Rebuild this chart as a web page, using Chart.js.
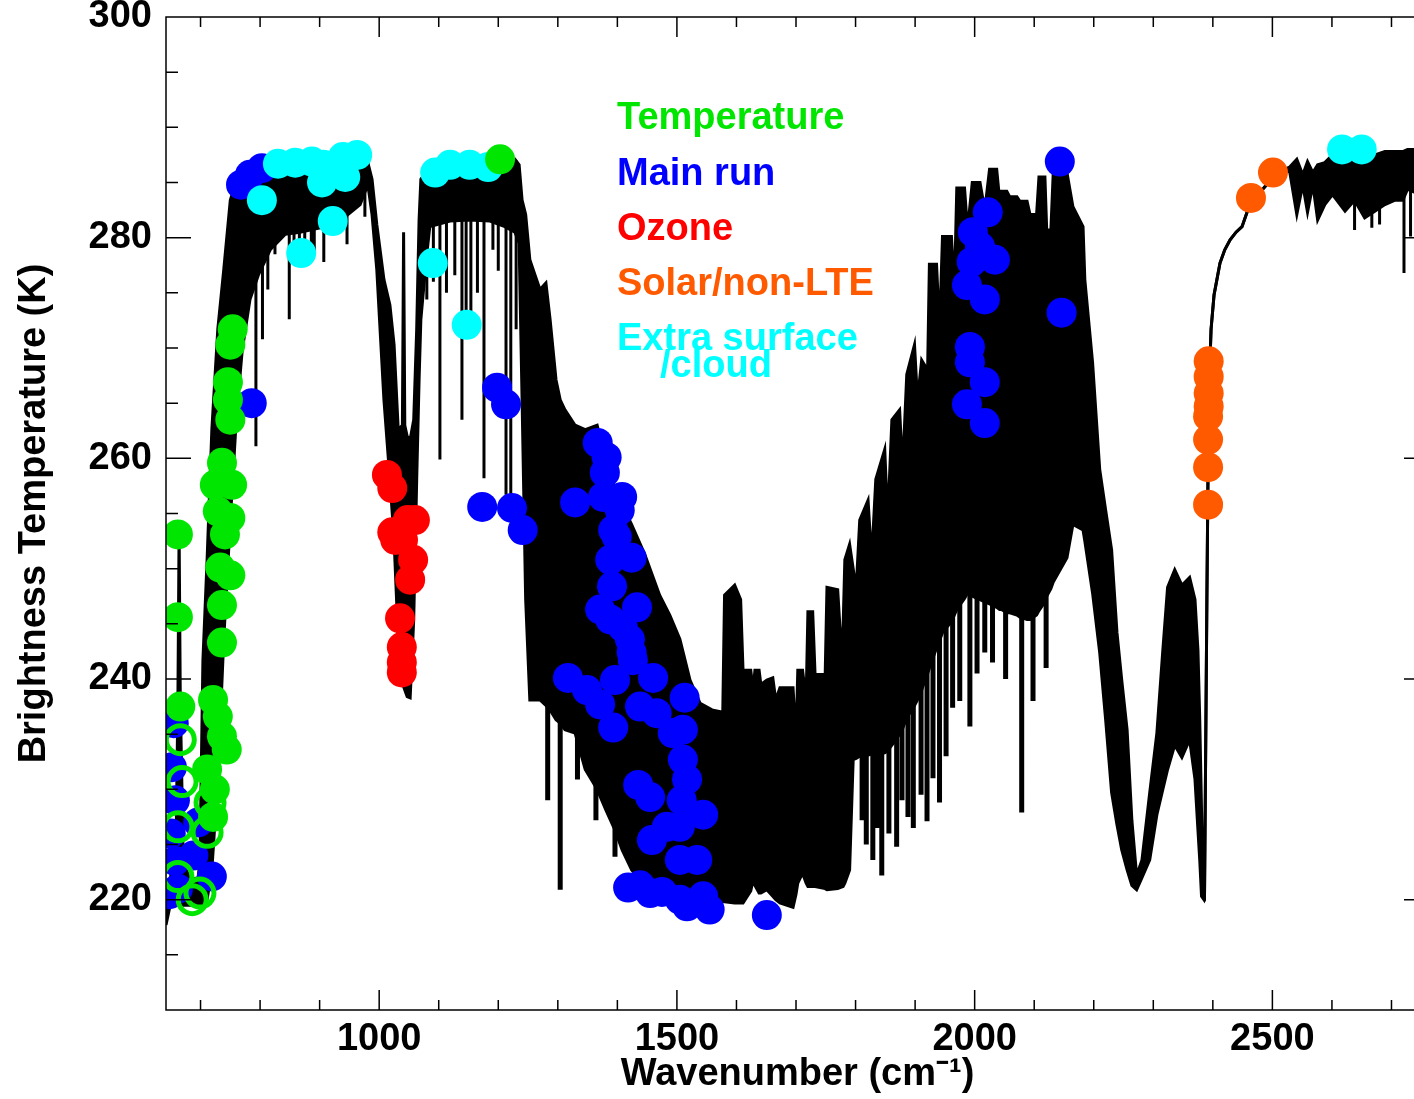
<!DOCTYPE html>
<html>
<head>
<meta charset="utf-8">
<title>Brightness temperature spectrum</title>
<script src="https://cdn.jsdelivr.net/npm/chart.js@4.4.1/dist/chart.umd.min.js"></script>
<style>
  html, body { margin: 0; padding: 0; background: #fff; overflow: hidden; }
  #wrap { width: 1430px; height: 1099px; }
</style>
</head>
<body>
<div id="wrap"><canvas id="spectrumChart" width="1430" height="1099"></canvas></div>
<script>
const FONT = "'Liberation Sans', Arial, Helvetica, sans-serif";

// spectrum envelope: [wavenumber (cm-1), upper K, lower K]
const spectrumBand = [
  [642, 220.4, 217.7], [649, 221.8, 219.5], [659, 225.4, 220.0], [662, 238.1, 220.0], [664, 253.5, 220.0],
  [666, 238.1, 220.0], [671, 223.6, 219.5], [682, 221.8, 219.5], [696, 222.0, 219.5], [699, 223.6, 219.5],
  [704, 241.7, 219.7], [711, 250.8, 220.0], [719, 262.6, 222.7], [729, 271.7, 230.9], [739, 277.1, 243.6],
  [750, 283.4, 254.4], [760, 285.1, 263.5], [770, 285.6, 269.8], [783, 286.0, 274.4], [797, 286.2, 276.6],
  [817, 286.3, 278.9], [842, 286.3, 280.3], [867, 286.4, 280.5], [901, 286.5, 280.9], [934, 286.7, 281.5],
  [968, 287.1, 283.0], [981, 286.8, 284.8], [988, 285.3, 282.1], [996, 281.2, 277.1], [1008, 276.2, 265.3],
  [1018, 273.9, 258.1], [1025, 270.3, 252.6], [1032, 262.6, 243.6], [1039, 263.0, 240.0], [1041, 280.5, 239.3],
  [1043, 263.0, 239.0], [1047, 262.0, 238.4], [1052, 261.7, 238.3], [1058, 263.5, 245.4], [1063, 271.7, 258.1],
  [1067, 281.6, 267.1], [1070, 285.3, 272.6], [1079, 286.0, 278.0], [1085, 286.1, 281.0], [1119, 286.2, 281.5],
  [1152, 286.3, 281.6], [1186, 286.5, 281.5], [1211, 286.8, 281.0], [1228, 287.1, 280.5], [1235, 286.6, 279.5],
  [1240, 283.4, 265.3], [1246, 282.1, 247.2], [1253, 278.0, 238.1], [1270, 275.3, 238.1], [1280, 275.9, 237.6],
  [1287, 272.6, 237.2], [1297, 267.1, 236.3], [1304, 265.3, 236.0], [1312, 264.4, 235.4], [1329, 263.0, 235.1],
  [1346, 262.6, 231.8], [1366, 263.0, 230.0], [1381, 259.9, 228.1], [1396, 257.2, 226.3], [1408, 255.8, 224.5],
  [1424, 254.0, 222.7], [1446, 251.3, 221.3], [1471, 247.6, 220.9], [1488, 245.8, 220.6], [1505, 243.6, 220.4],
  [1522, 239.9, 220.2], [1539, 237.8, 220.0], [1559, 237.2, 220.0], [1577, 237.0, 219.8], [1580, 247.6, 219.8],
  [1597, 248.5, 219.7], [1607, 247.2, 219.7], [1611, 240.8, 219.7], [1624, 240.8, 220.8], [1628, 239.0, 221.8],
  [1631, 240.8, 221.3], [1638, 240.8, 220.6], [1641, 239.5, 220.6], [1651, 239.9, 220.9], [1661, 240.1, 220.3],
  [1666, 238.1, 220.0], [1673, 239.2, 219.7], [1695, 239.2, 219.3], [1700, 234.5, 220.5], [1703, 240.8, 221.5],
  [1711, 240.8, 222.4], [1717, 238.1, 221.5], [1720, 246.1, 221.2], [1728, 246.1, 221.2], [1732, 240.4, 221.2],
  [1749, 240.4, 221.0], [1752, 248.3, 220.9], [1770, 248.1, 221.0], [1774, 244.5, 221.1], [1779, 244.5, 221.2],
  [1782, 250.8, 221.5], [1790, 252.2, 222.7], [1796, 250.0, 232.7], [1801, 248.1, 232.8], [1807, 254.4, 233.0],
  [1821, 256.2, 233.1], [1827, 250.8, 233.2], [1834, 258.1, 233.2], [1849, 260.8, 233.3], [1854, 254.4, 233.5],
  [1861, 263.5, 234.0], [1874, 264.4, 235.0], [1879, 259.0, 235.5], [1886, 267.6, 236.5], [1899, 270.3, 237.6],
  [1904, 265.3, 238.1], [1911, 268.9, 239.0], [1921, 268.0, 240.5], [1924, 277.6, 241.0], [1936, 277.6, 242.8],
  [1941, 271.7, 243.5], [1946, 280.1, 244.2], [1961, 280.1, 245.2], [1966, 275.3, 245.8], [1970, 284.5, 246.3],
  [1983, 284.5, 247.3], [1988, 280.7, 247.8], [1996, 285.0, 247.5], [2009, 285.0, 247.2], [2017, 282.5, 247.0],
  [2025, 286.2, 246.8], [2037, 286.2, 246.5], [2042, 283.4, 246.3], [2045, 284.2, 246.3], [2054, 284.2, 246.0],
  [2059, 283.7, 246.0], [2071, 283.7, 245.8], [2076, 283.3, 245.6], [2088, 283.3, 245.4], [2093, 282.1, 245.4],
  [2104, 282.1, 245.8], [2108, 285.5, 246.2], [2118, 285.5, 247.0], [2121, 280.7, 247.5], [2128, 280.7, 248.2],
  [2132, 285.9, 248.8], [2155, 285.9, 251.0], [2165, 282.8, 254.0], [2182, 281.0, 253.5], [2185, 276.2, 252.5],
  [2198, 268.7, 247.8], [2210, 259.0, 242.4], [2220, 255.3, 236.3], [2230, 251.7, 229.7], [2239, 244.2, 226.8],
  [2247, 239.9, 224.5], [2256, 235.4, 222.7], [2264, 227.2, 221.3], [2272, 222.2, 220.9], [2281, 223.6, 222.0],
  [2294, 229.7, 223.6], [2306, 235.1, 227.7], [2316, 242.6, 230.0], [2324, 248.3, 231.8], [2336, 249.9, 234.0],
  [2348, 248.5, 232.9], [2361, 249.2, 234.5], [2370, 247.2, 230.9], [2375, 242.6, 226.3], [2378, 236.3, 223.6],
  [2381, 228.1, 220.3], [2385, 220.4, 220.0], [2386, 220.3, 220.3], [2390, 247.2, 247.2], [2393, 265.3, 265.3],
  [2397, 271.7, 271.7], [2402, 274.8, 274.8], [2412, 277.7, 277.7], [2420, 278.9, 278.9], [2429, 279.8, 279.8],
  [2439, 280.5, 280.5], [2449, 281.0, 281.0], [2462, 283.0, 283.0], [2476, 283.9, 283.9], [2487, 284.6, 284.6],
  [2499, 285.3, 285.3], [2512, 286.0, 286.0], [2529, 286.4, 286.0], [2541, 287.1, 282.1], [2551, 285.7, 284.8],
  [2559, 286.9, 282.3], [2568, 285.9, 284.8], [2576, 286.6, 281.6], [2588, 286.8, 283.0], [2601, 287.5, 283.9],
  [2622, 287.8, 282.4], [2638, 287.8, 283.4], [2655, 287.7, 281.8], [2672, 287.5, 282.4], [2689, 287.8, 283.0],
  [2706, 287.8, 283.4], [2719, 287.8, 283.4], [2727, 288.0, 284.4], [2748, 288.0, 283.9], [2763, 287.8, 283.9]
];

// thin spectral lines in the window regions: [wavenumber, top K, bottom K]
const lineSegments = [
  [793, 286.0, 261.1], [804, 286.2, 270.8], [813, 286.2, 275.3], [825, 286.2, 278.5], [849, 286.3, 272.6],
  [857, 286.3, 278.9], [866, 286.4, 277.4], [875, 286.4, 279.4], [886, 286.4, 278.9], [891, 286.4, 278.5],
  [907, 286.5, 277.8], [946, 286.7, 279.4], [976, 287.0, 281.9],
  [1080, 286.1, 274.4], [1091, 286.1, 276.0], [1102, 286.1, 259.9], [1113, 286.2, 275.0], [1127, 286.2, 276.6],
  [1139, 286.2, 263.5], [1146, 286.3, 272.0], [1154, 286.3, 271.7], [1165, 286.3, 275.0], [1176, 286.4, 258.2],
  [1191, 286.5, 278.9], [1200, 286.5, 277.0], [1213, 286.8, 256.7], [1221, 286.9, 256.5], [1230, 287.0, 271.7],
  [2638, 287.8, 280.7], [2667, 287.5, 280.9], [2680, 287.6, 281.2], [2721, 287.8, 276.8], [2732, 288.0, 280.1]
];

// wider water-vapour lines hanging below the band: [wavenumber, top K, bottom K]
const combLines = [
  [1283, 240.0, 229.0], [1304, 240.0, 220.9], [1333, 237.0, 230.9], [1364, 232.0, 227.2], [1396, 228.0, 223.9],
  [1811, 235.0, 227.2], [1818, 234.0, 225.0], [1829, 235.0, 223.6], [1836, 234.0, 226.5], [1844, 235.0, 222.2],
  [1856, 235.0, 226.0], [1869, 236.0, 224.8], [1878, 236.0, 229.0], [1888, 238.0, 227.5], [1897, 238.0, 226.5],
  [1910, 240.0, 229.5], [1920, 242.0, 227.1], [1930, 243.0, 231.0], [1941, 245.0, 228.8], [1952, 245.0, 233.0],
  [1963, 247.0, 237.4], [1975, 248.0, 238.0], [1992, 249.0, 235.7], [2004, 248.0, 240.5], [2017, 249.0, 242.4],
  [2030, 248.0, 241.5], [2052, 247.0, 240.0], [2079, 248.0, 227.9], [2098, 246.0, 238.0], [2120, 248.0, 241.0]
];

// selected channels: [wavenumber, K]
const temperatureChannels = [
  [662, 253.1], [662, 245.6], [666, 237.5], [754, 271.7], [750, 270.3], [746, 266.9], [746, 265.3], [750, 263.5],
  [736, 259.6], [724, 257.6], [753, 257.6], [729, 255.2], [750, 254.6], [741, 253.1], [733, 250.1], [750, 249.4],
  [736, 246.7], [736, 243.3], [721, 238.1], [729, 236.6], [736, 234.8], [744, 233.6], [711, 231.8], [724, 230.0],
  [721, 227.5], [1203, 287.1]
];
const temperatureRings = [
  [666, 234.5], [669, 230.7], [716, 228.8], [711, 226.1], [662, 226.6], [662, 222.1], [686, 220.0], [699, 220.6]
];
const mainRunChannels = [
  [655, 236.0], [652, 232.0], [657, 229.0], [650, 226.0], [657, 223.5], [662, 221.0], [648, 220.5], [719, 222.1],
  [696, 227.0], [688, 224.0],
  [768, 284.8], [783, 285.7], [803, 286.3], [786, 265.0],
  [1173, 255.6], [1198, 266.4], [1213, 264.9], [1223, 255.5], [1241, 253.5],
  [1367, 261.4], [1382, 260.1], [1379, 258.7], [1329, 256.0], [1376, 256.5], [1408, 256.5], [1404, 255.3], [1393, 253.5],
  [1399, 252.9], [1388, 250.8], [1424, 251.0], [1391, 248.4], [1433, 246.5], [1371, 246.3], [1388, 245.4], [1409, 244.7],
  [1421, 243.6], [1426, 241.7], [1424, 242.4], [1317, 240.1], [1349, 239.0], [1396, 239.9], [1460, 240.1], [1371, 237.7],
  [1393, 235.6], [1438, 237.5], [1466, 236.9], [1513, 238.3], [1493, 235.1], [1510, 235.4], [1510, 232.7], [1517, 230.9],
  [1435, 230.4], [1455, 229.3], [1508, 229.0], [1544, 227.7], [1505, 226.6], [1458, 225.4], [1483, 226.6], [1534, 223.6],
  [1505, 223.6], [1418, 221.1], [1455, 220.6], [1505, 220.0], [1544, 220.3], [1555, 219.1], [1517, 219.4], [1438, 221.3],
  [1475, 220.7], [1651, 218.6],
  [2143, 286.9], [2022, 282.3], [1997, 280.5], [2009, 279.2], [2034, 278.0], [1995, 277.8], [1987, 275.7], [2017, 274.4],
  [2146, 273.2], [1992, 270.1], [1992, 268.7], [2017, 266.9], [1987, 264.9], [2017, 263.2]
];
const ozoneChannels = [
  [1013, 258.5], [1022, 257.3], [1060, 254.4], [1048, 254.4], [1022, 253.3], [1027, 252.6], [1040, 252.6], [1057, 250.8],
  [1052, 249.0], [1035, 245.5], [1038, 242.9], [1038, 241.5], [1038, 240.6]
];
const solarChannels = [
  [2501, 285.9], [2464, 283.6], [2393, 268.8], [2393, 267.4], [2393, 265.9], [2393, 264.7], [2392, 263.8], [2392, 261.7],
  [2392, 259.2], [2392, 255.8]
];
const surfaceChannels = [
  [803, 283.4], [830, 286.7], [859, 286.8], [887, 286.9], [906, 286.6], [904, 285.0], [939, 287.3], [943, 285.5],
  [963, 287.5], [922, 281.5], [869, 278.6], [1094, 285.9], [1119, 286.6], [1152, 286.6], [1183, 286.4], [1090, 277.7],
  [1147, 272.1], [2617, 288.0], [2650, 288.0]
];

const xTickValues = [1000, 1500, 2000, 2500];
const yTickValues = [220, 240, 260, 280, 300];

const legendLabels = ["Temperature", "Main run", "Ozone", "Solar/non-LTE", "Extra surface"];
const legendColors = ["#00e600", "#0000ff", "#ff0000", "#ff5a00", "#00ffff"];

const toPoints = (list) => list.map(([x, y]) => ({ x, y }));

function segmentsToPoints(list) {
  const out = [];
  list.forEach(([w, top, bottom]) => {
    out.push({ x: w, y: top }, { x: w, y: bottom }, { x: w, y: null });
  });
  return out;
}

function markerSet(label, list, color, order) {
  return {
    label,
    data: toPoints(list),
    showLine: false,
    order,
    pointRadius: 15,
    pointHoverRadius: 15,
    pointBorderWidth: 0,
    pointBackgroundColor: color,
    pointBorderColor: color,
    backgroundColor: color,
    borderColor: color
  };
}

const frameAndTicks = {
  id: "frameAndTicks",
  afterDatasetsDraw(chart) {
    const { ctx, chartArea: a, scales } = chart;
    ctx.save();
    ctx.strokeStyle = "#000";
    ctx.lineWidth = 1.5;
    ctx.strokeRect(a.left, a.top, a.right - a.left, a.bottom - a.top);
    ctx.beginPath();
    for (let v = 700; v <= 2700; v += 100) {
      const px = scales.x.getPixelForValue(v);
      const len = v % 500 === 0 ? 20 : 10;
      ctx.moveTo(px, a.bottom);
      ctx.lineTo(px, a.bottom - len);
      ctx.moveTo(px, a.top);
      ctx.lineTo(px, a.top + len);
    }
    for (let v = 215; v < 300; v += 5) {
      const py = scales.y.getPixelForValue(v);
      const len = v % 20 === 0 ? 25 : 12;
      ctx.moveTo(a.left, py);
      ctx.lineTo(a.left + len, py);
      ctx.moveTo(a.right, py);
      ctx.lineTo(a.right - len, py);
    }
    ctx.stroke();
    ctx.restore();
  }
};

const textLegend = {
  id: "textLegend",
  afterDraw(chart) {
    const { ctx, chartArea: a } = chart;
    const x = a.left + 451;
    ctx.save();
    ctx.font = `bold 38px ${FONT}`;
    ctx.textBaseline = "middle";
    ctx.textAlign = "left";
    legendLabels.forEach((label, i) => {
      ctx.fillStyle = legendColors[i];
      ctx.fillText(label, x, a.top + 102 + i * 55.2);
    });
    ctx.fillStyle = legendColors[4];
    ctx.fillText("/cloud", x + 43, a.top + 350);
    ctx.restore();
  }
};

const axisFont = { family: FONT, size: 38, weight: "bold" };

new Chart(document.getElementById("spectrumChart"), {
  type: "line",
  data: {
    datasets: [
      {
        label: "spectrum top",
        data: spectrumBand.map(([w, top]) => ({ x: w, y: top })),
        borderColor: "#000",
        backgroundColor: "#000",
        borderWidth: 3,
        pointRadius: 0,
        tension: 0,
        fill: "+1",
        order: 20
      },
      {
        label: "spectrum bottom",
        data: spectrumBand.map(([w, , bottom]) => ({ x: w, y: bottom })),
        borderColor: "#000",
        borderWidth: 3,
        pointRadius: 0,
        tension: 0,
        fill: false,
        order: 19
      },
      {
        label: "lines",
        data: segmentsToPoints(lineSegments),
        borderColor: "#000",
        borderWidth: 3,
        pointRadius: 0,
        spanGaps: false,
        fill: false,
        order: 18
      },
      {
        label: "comb",
        data: segmentsToPoints(combLines),
        borderColor: "#000",
        borderWidth: 5,
        pointRadius: 0,
        spanGaps: false,
        fill: false,
        order: 17
      },
      markerSet("Main run", mainRunChannels, legendColors[1], 5),
      markerSet("Ozone", ozoneChannels, legendColors[2], 4),
      markerSet("Solar/non-LTE", solarChannels, legendColors[3], 3),
      markerSet("Extra surface/cloud", surfaceChannels, legendColors[4], 2),
      markerSet("Temperature", temperatureChannels, legendColors[0], 1),
      {
        label: "Temperature (open)",
        data: toPoints(temperatureRings),
        showLine: false,
        order: 0,
        pointRadius: 14,
        pointHoverRadius: 14,
        pointBorderWidth: 5,
        pointBackgroundColor: "rgba(0,0,0,0)",
        pointBorderColor: legendColors[0],
        borderColor: legendColors[0]
      }
    ]
  },
  options: {
    responsive: false,
    devicePixelRatio: 1,
    animation: false,
    events: [],
    layout: { autoPadding: false, padding: { top: 17, right: 1, left: 0, bottom: 0 } },
    plugins: {
      legend: { display: false },
      tooltip: { enabled: false }
    },
    scales: {
      x: {
        type: "linear",
        min: 642,
        max: 2763,
        grid: { display: false, drawTicks: false },
        border: { display: false },
        afterBuildTicks: (axis) => { axis.ticks = xTickValues.map((value) => ({ value })); },
        afterFit: (axis) => { axis.height = 89; axis.paddingLeft = 0; axis.paddingRight = 0; },
        ticks: { font: axisFont, color: "#000", padding: 7, maxRotation: 0, autoSkip: false, callback: (v) => String(v) },
        title: {
          display: true,
          text: "Wavenumber (cm\u207B\u00B9)",
          font: axisFont,
          color: "#000",
          padding: { top: 0, bottom: 2 }
        }
      },
      y: {
        type: "linear",
        min: 210,
        max: 300,
        grid: { display: false, drawTicks: false },
        border: { display: false },
        afterBuildTicks: (axis) => { axis.ticks = yTickValues.map((value) => ({ value })); },
        afterFit: (axis) => { axis.width = 166; axis.paddingTop = 0; axis.paddingBottom = 0; },
        ticks: { font: axisFont, color: "#000", padding: 14, callback: (v) => String(v) },
        title: {
          display: true,
          text: "Brightness Temperature (K)",
          font: axisFont,
          color: "#000",
          padding: { top: 12, bottom: 0 }
        }
      }
    }
  },
  plugins: [frameAndTicks, textLegend]
});
</script>
</body>
</html>
